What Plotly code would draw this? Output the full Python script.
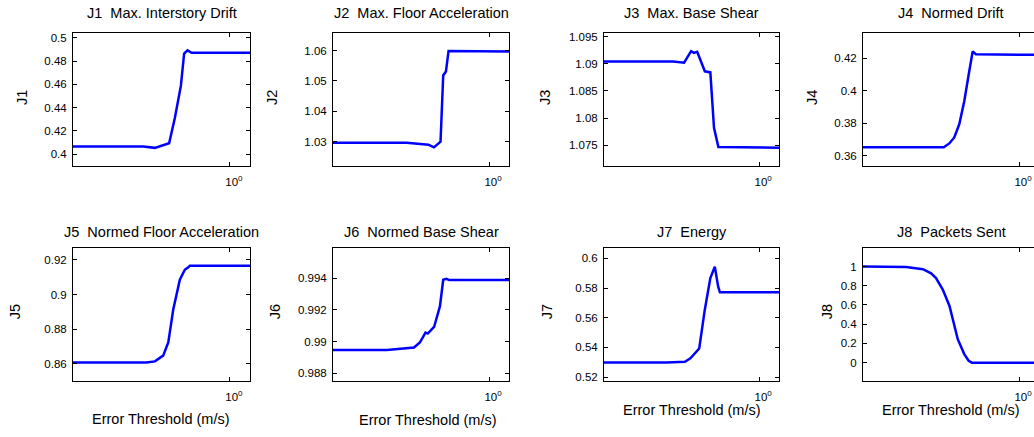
import plotly.graph_objects as go

# ---- data: error threshold (m/s) vs. performance index ----
j1_x = [0.125, 0.318, 0.371, 0.448, 0.483, 0.523, 0.546, 0.571, 0.603, 1.5]
j1_y = [0.4066, 0.4066, 0.4054, 0.4094, 0.431, 0.4586, 0.4863, 0.4891, 0.4871, 0.4871]

j2_x = [0.125, 0.335, 0.447, 0.481, 0.525, 0.544, 0.564, 0.584, 1.5]
j2_y = [1.0296, 1.0296, 1.0290, 1.0281, 1.0300, 1.0518, 1.0531, 1.0599, 1.0597]

j3_x = [0.125, 0.317, 0.367, 0.403, 0.418, 0.437, 0.484, 0.521, 0.547, 0.580, 1.5]
j3_y = [1.0904, 1.0904, 1.0902, 1.0923, 1.0920, 1.0922, 1.0886, 1.0884, 1.0782, 1.0747, 1.0745]

j4_x = [0.125, 0.368, 0.396, 0.423, 0.452, 0.483, 0.512, 0.540, 0.564, 1.5]
j4_y = [0.3651, 0.3651, 0.3675, 0.3712, 0.3793, 0.3935, 0.4098, 0.4241, 0.4224, 0.4220]

j5_x = [0.125, 0.332, 0.371, 0.414, 0.443, 0.473, 0.516, 0.551, 0.577, 0.589, 1.5]
j5_y = [0.8608, 0.8608, 0.8615, 0.8648, 0.8724, 0.8914, 0.9086, 0.9143, 0.9158, 0.9166, 0.9166]

j6_x = [0.125, 0.258, 0.369, 0.399, 0.430, 0.443, 0.482, 0.521, 0.544, 0.568, 0.589, 1.5]
j6_y = [0.98946, 0.98946, 0.98963, 0.98994, 0.99056, 0.99050, 0.99092, 0.99223, 0.99390,
        0.99396, 0.99388, 0.99388]

j7_x = [0.125, 0.290, 0.371, 0.399, 0.449, 0.484, 0.521, 0.553, 0.578, 0.592, 1.5]
j7_y = [0.5298, 0.5298, 0.5304, 0.5327, 0.5393, 0.5656, 0.5867, 0.5944, 0.5811, 0.5771, 0.5771]

j8_x = [0.125, 0.223, 0.279, 0.311, 0.332, 0.363, 0.397, 0.418, 0.443, 0.483, 0.512, 0.535, 1.5]
j8_y = [1.0, 0.995, 0.973, 0.93, 0.88, 0.76, 0.59, 0.416, 0.244, 0.089, 0.02, 0.0, 0.0]

titles = ["J1  Max. Interstory Drift", "J2  Max. Floor Acceleration", "J3  Max. Base Shear",
          "J4  Normed Drift", "J5  Normed Floor Acceleration", "J6  Normed Base Shear",
          "J7  Energy", "J8  Packets Sent"]
ylabels = ["J1", "J2", "J3", "J4", "J5", "J6", "J7", "J8"]
xlabel = "Error Threshold (m/s)"

yticks = [
    [0.4, 0.42, 0.44, 0.46, 0.48, 0.5],
    [1.03, 1.04, 1.05, 1.06],
    [1.075, 1.08, 1.085, 1.09, 1.095],
    [0.36, 0.38, 0.4, 0.42],
    [0.86, 0.88, 0.9, 0.92],
    [0.988, 0.99, 0.992, 0.994],
    [0.52, 0.54, 0.56, 0.58, 0.6],
    [0, 0.2, 0.4, 0.6, 0.8, 1],
]
yranges = [
    [0.3894, 0.5043], [1.0218, 1.0659], [1.0711, 1.0957], [0.3533, 0.4357],
    [0.8499, 0.9270], [0.98748, 0.99592], [0.5171, 0.6071], [-0.196, 1.196],
]
xtick_vals = [1]
xtick_text = ["10<sup>0</sup>"]

series = [(j1_x, j1_y), (j2_x, j2_y), (j3_x, j3_y), (j4_x, j4_y),
          (j5_x, j5_y), (j6_x, j6_y), (j7_x, j7_y), (j8_x, j8_y)]

# ---- layout geometry (pixels) ----
W, H = 1034, 437
col_px = [(73, 250), (333, 509), (604, 779), (863, 1034)]
col_center = [161.5, 421, 691.5, 951]
row_px = [(31, 166), (248, 383)]
title_y = [11.5, 232]
ylab_pos = [(22, 97), (272, 97), (545, 97), (812, 97),
            (15, 313), (275, 313), (547, 313), (827, 313)]
xlab_pos = [(161, 421), (428, 422), (692, 412), (951, 412)]

FONT = "Liberation Sans, Arial, Helvetica, sans-serif"
TICK_SIZE = 11.5
LABEL_SIZE = 14.5


def fx(p):
    return p / W


def fy(p):
    return (H - p) / H


fig = go.Figure()
annotations = []

for i, (xs, ys) in enumerate(series):
    r, c = divmod(i, 4)
    n = i + 1
    xa = "x" if n == 1 else f"x{n}"
    ya = "y" if n == 1 else f"y{n}"
    fig.add_trace(go.Scatter(x=xs, y=ys, mode="lines", xaxis=xa, yaxis=ya,
                             line=dict(color="#0000ff", width=2.5),
                             showlegend=False, hoverinfo="skip"))
    x0, x1 = col_px[c]
    y0, y1 = row_px[r]
    last_col = (c == 3)
    xr_right = -0.9 + (x1 - x0) / 176 * 1.015 if last_col else 0.115
    xaxis = dict(domain=[fx(x0), fx(x1)], type="log", range=[-0.9, xr_right],
                 tickvals=xtick_vals, ticktext=xtick_text,
                 ticks="inside", ticklen=4, tickwidth=1, tickcolor="black",
                 showline=True, linecolor="black", linewidth=1, mirror="ticks",
                 showgrid=False, zeroline=False, anchor=ya,
                 ticklabelstandoff=5, ticklabelshift=4,
                 tickfont=dict(family=FONT, size=TICK_SIZE, color="black"))
    yaxis = dict(domain=[fy(y1), fy(y0)], range=yranges[i],
                 tickvals=yticks[i], ticktext=[f"{v:g}" for v in yticks[i]],
                 ticks="inside", ticklen=4, tickwidth=1, tickcolor="black",
                 showline=True, linecolor="black", linewidth=1,
                 mirror=False if last_col else "ticks",
                 showgrid=False, zeroline=False, anchor=xa, ticklabelstandoff=3,
                 tickfont=dict(family=FONT, size=TICK_SIZE, color="black"))
    fig.update_layout(**{("xaxis" if n == 1 else f"xaxis{n}"): xaxis,
                         ("yaxis" if n == 1 else f"yaxis{n}"): yaxis})

    annotations.append(dict(text=titles[i], x=fx(col_center[c]), y=fy(title_y[r]),
                            xref="paper", yref="paper",
                            xanchor="center", yanchor="middle", showarrow=False,
                            font=dict(family=FONT, size=LABEL_SIZE, color="black")))
    lx, ly = ylab_pos[i]
    annotations.append(dict(text=ylabels[i], x=fx(lx), y=fy(ly), xref="paper", yref="paper",
                            xanchor="center", yanchor="middle", showarrow=False, textangle=-90,
                            font=dict(family=FONT, size=LABEL_SIZE, color="black")))
    if r == 1:
        bx, by = xlab_pos[c]
        annotations.append(dict(text=xlabel, x=fx(bx), y=fy(by), xref="paper", yref="paper",
                                xanchor="center", yanchor="middle", showarrow=False,
                                font=dict(family=FONT, size=LABEL_SIZE, color="black")))

fig.update_layout(width=W, height=H, margin=dict(l=0, r=0, t=0, b=0),
                  paper_bgcolor="white", plot_bgcolor="white",
                  annotations=annotations, showlegend=False)

fig.write_html("out.html", config={"displayModeBar": False})
